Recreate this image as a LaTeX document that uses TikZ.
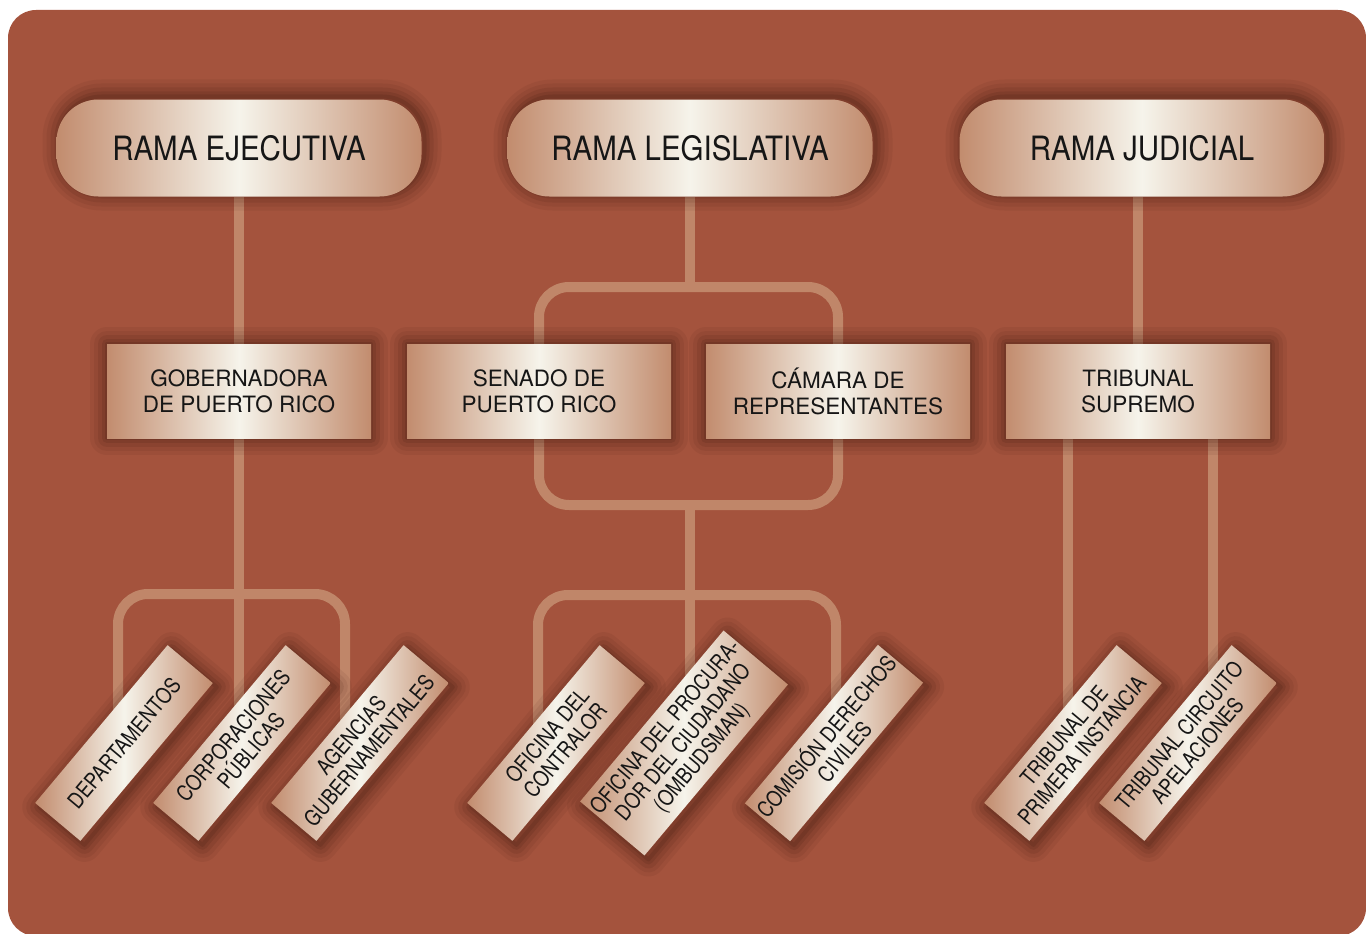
\documentclass[tikz,border=0pt]{standalone}
\usepackage{fontspec}
\setmainfont{TeX Gyre Heros}
\newfontfamily\narrowfont[FakeStretch=0.88]{TeX Gyre Heros}
\newfontfamily\slimfont[FakeStretch=0.84]{TeX Gyre Heros}
\usepackage{tikz}
\usetikzlibrary{
  positioning
}
\definecolor{rustbg}{RGB}{164, 83, 61}
\definecolor{linkbrown}{RGB}{192, 134, 105}
\definecolor{tanedge}{RGB}{194, 140, 110}
\definecolor{pearl}{RGB}{246, 244, 235}
\definecolor{inkgrey}{RGB}{22, 22, 22}
\definecolor{shadowbrown}{RGB}{55, 20, 10}
\pgfdeclarelayer{back}
\pgfdeclarelayer{links}
\pgfsetlayers{back,links,main}
\tikzset{
  halo/.style={
    preaction={draw=shadowbrown, line join=round, line width=34pt, opacity=0.07, transform canvas={shift={#1}}},
    preaction={draw=shadowbrown, line join=round, line width=26pt, opacity=0.08, transform canvas={shift={#1}}},
    preaction={draw=shadowbrown, line join=round, line width=18pt, opacity=0.10, transform canvas={shift={#1}}},
    preaction={draw=shadowbrown, line join=round, line width=10pt, opacity=0.12, transform canvas={shift={#1}}},
    preaction={draw=shadowbrown, line join=round, line width=4pt, opacity=0.14, transform canvas={shift={#1}}}
  },
  halo/.default={(0pt,0pt)},
  metal/.style={
    left color=tanedge, right color=tanedge, middle color=pearl,
    text=inkgrey, align=center
  },
  branch/.style={
    metal, halo={(3pt,3pt)}, rounded corners=42pt,
    minimum width=365pt, minimum height=97pt,
    font=\narrowfont\fontsize{33.5}{38}\selectfont
  },
  office/.style={
    metal, halo,
    minimum width=264pt, minimum height=94pt,
    font=\fontsize{22.5}{26}\selectfont
  },
  unit/.style={
    metal, halo={(4pt,-4pt)}, rotate=50, inner sep=2pt,
    minimum width=206pt, minimum height=59pt,
    font=\slimfont\fontsize{22}{23.5}\selectfont
  },
  link/.style={draw=linkbrown, line width=10pt, rounded corners=30pt}
}

\begin{document}
\begin{tikzpicture}[x=1pt, y=-1pt]
\useasboundingbox (0,0) rectangle (1366,934);
\begin{pgfonlayer}{back}
  \fill[rustbg, rounded corners=28pt] (8,10) rectangle (1366,936);
\end{pgfonlayer}

% ramas
\node[branch] (ejec) at (239,148) {RAMA EJECUTIVA};
\node[branch] (legis) at (690,148) {RAMA LEGISLATIVA};
\node[branch] (judic) at (1142,148) {RAMA JUDICIAL};

% cargos
\node[office] (gob) at (239,391) {GOBERNADORA\\DE PUERTO RICO};
\node[office] (senado) at (539,391) {SENADO DE\\PUERTO RICO};
\node[office] (camara) at (838,391) {CÁMARA DE\\REPRESENTANTES};
\node[office] (supremo) at (1138,391) {TRIBUNAL\\SUPREMO};

% dependencias (inclinadas)
\node[unit] (deptos) at (124,743) {DEPARTAMENTOS};
\node[unit] (corps) at (242,743) {CORPORACIONES\\PÚBLICAS};
\node[unit] (agencias) at (360,743) {AGENCIAS\\GUBERNAMENTALES};
\node[unit] (contralor) at (556,743) {OFICINA DEL\\CONTRALOR};
\node[unit, minimum width=217pt, minimum height=84pt] (procurador) at (684,743) {OFICINA DEL PROCURA-\\DOR DEL CIUDADANO\\(OMBUDSMAN)};
\node[unit] (derechos) at (834,743) {COMISIÓN DERECHOS\\CIVILES};
\node[unit] (primera) at (1073,743) {TRIBUNAL DE\\PRIMERA INSTANCIA};
\node[unit] (circuito) at (1188,743) {TRIBUNAL CIRCUITO\\APELACIONES};

% conexiones
\begin{pgfonlayer}{links}
  \draw[link] (ejec) -- (gob);
  \draw[link] (gob) -- (gob |- corps);
  \draw[link] ({118,0} |- deptos) |- (gob |- {0,594}) -| ({345,0} |- agencias);

  \draw[link] (legis) -- (legis |- {0,287});
  \draw[link] (senado |- {0,287}) rectangle (camara |- {0,505});
  \draw[link] (legis |- {0,505}) -- (legis |- procurador);
  \draw[link] ({538,0} |- contralor) |- (legis |- {0,595}) -| ({836,0} |- derechos);

  \draw[link] (judic.south -| supremo) -- (supremo);
  \draw[link] ({1068,0} |- supremo) -- ({1068,0} |- primera);
  \draw[link] ({1213,0} |- supremo) -- ({1213,0} |- circuito);
\end{pgfonlayer}

\end{tikzpicture}
\end{document}
